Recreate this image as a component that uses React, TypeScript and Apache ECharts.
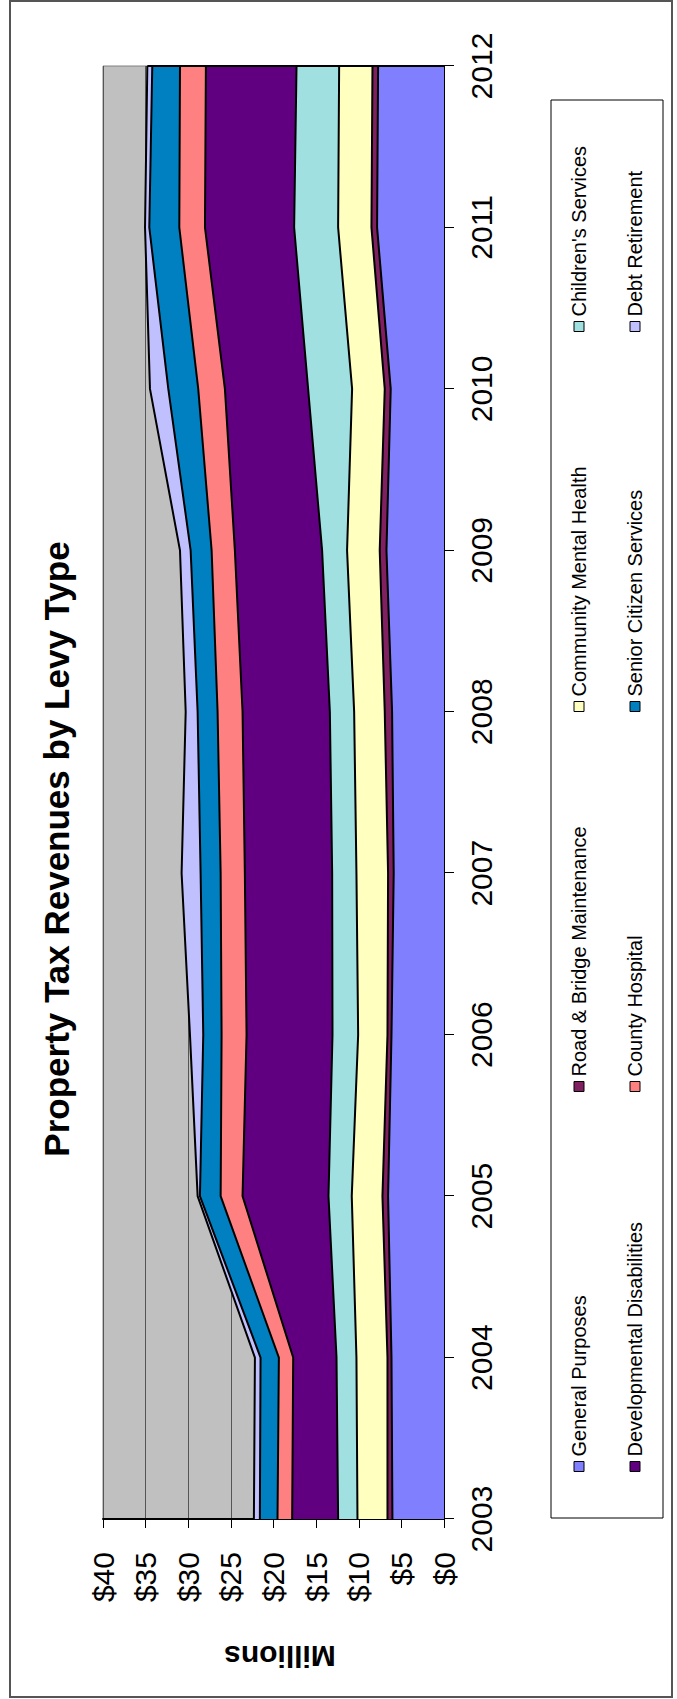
import React, { useEffect, useRef } from "react";
import * as echarts from "echarts";

const years = ["2003", "2004", "2005", "2006", "2007", "2008", "2009", "2010", "2011", "2012"];
const seriesNames = [
  "General Purposes",
  "Road & Bridge Maintenance",
  "Community Mental Health",
  "Children's Services",
  "Developmental Disabilities",
  "County Hospital",
  "Senior Citizen Services",
  "Debt Retirement",
];
const generalPurposes = [6.05, 6.16, 6.56, 6.16, 5.9, 6.09, 6.75, 6.25, 7.85, 7.73];
const roadBridge = [0.58, 0.47, 0.66, 0.47, 0.66, 0.86, 0.79, 0.7, 0.66, 0.66];
const mentalHealth = [3.52, 3.64, 3.6, 3.44, 3.71, 3.59, 3.83, 3.83, 3.91, 3.91];
const childrens = [2.27, 2.34, 2.73, 3.01, 2.85, 2.85, 2.93, 5.16, 5.16, 5.0];
const devDisabilities = [5.39, 5.08, 10.08, 10.08, 10.24, 10.24, 10.23, 9.76, 10.46, 10.63];
const countyHospital = [1.72, 1.68, 2.57, 2.93, 2.84, 2.93, 2.73, 3.13, 3.01, 3.04];
const seniorCitizen = [2.07, 2.15, 2.43, 2.15, 2.35, 2.34, 2.46, 3.51, 3.52, 3.25];
const debtRetirement = [0.7, 0.66, 0.27, 1.56, 2.23, 1.4, 1.25, 2.15, 0.5, 0.58];
const seriesValues = [
  generalPurposes,
  roadBridge,
  mentalHealth,
  childrens,
  devDisabilities,
  countyHospital,
  seniorCitizen,
  debtRetirement,
];
const seriesColors = ["#8080FF", "#802060", "#FFFFC0", "#A0E0E0", "#600080", "#FF8080", "#0080C0", "#C0C0FF"];
const valueTicks = { min: 0, max: 40, interval: 5 };

const FONT = '"Liberation Sans", Arial, Helvetica, sans-serif';

export default function App() {
  const ref = useRef<HTMLDivElement>(null);

  useEffect(() => {
    if (!ref.current) return;
    const chart = echarts.init(ref.current, undefined, { renderer: "svg" });

    const lastIdx = years.length - 1;
    const total2012 = seriesValues.reduce((s, arr) => s + arr[lastIdx], 0);

    // legend layout: 4 columns x 2 rows
    const colX = [232, 612, 992, 1372];
    const rowY = [579, 635];
    const legends = seriesNames.map((name, i) => {
      const col = i % 4;
      const row = Math.floor(i / 4);
      return {
        data: [name],
        left: colX[col] - 5,
        top: rowY[row] - 10,
        orient: "horizontal",
        padding: 0,
        itemGap: 0,
        itemWidth: 10,
        itemHeight: 10,
        icon: "rect",
        itemStyle: { borderColor: "#000", borderWidth: 1 },
        textStyle: { fontSize: 20, color: "#000", fontFamily: FONT },
        selectedMode: false,
      };
    });

    const series: any[] = seriesNames.map((name, i) => ({
      name,
      type: "line",
      stack: "total",
      data: seriesValues[i],
      symbol: "none",
      itemStyle: { color: seriesColors[i] },
      lineStyle: { color: "#000", width: 2 },
      areaStyle: { color: seriesColors[i], opacity: 1 },
      z: 2,
    }));
    series.push({
      name: "edge",
      type: "line",
      data: [
        [years[lastIdx], 0],
        [years[lastIdx], total2012],
      ],
      symbol: "none",
      lineStyle: { color: "#000", width: 2 },
      z: 3,
      silent: true,
    });

    chart.setOption({
      animation: false,
      backgroundColor: "#ffffff",
      textStyle: { fontFamily: FONT },
      grid: {
        left: 180,
        right: 66,
        top: 103,
        bottom: 233,
        show: true,
        backgroundColor: "#C0C0C0",
        borderColor: "#808080",
        borderWidth: 1,
        containLabel: false,
        outerBoundsMode: "none",
      },
      legend: legends,
      xAxis: {
        type: "category",
        data: years,
        boundaryGap: false,
        axisLine: { show: true, lineStyle: { color: "#000", width: 2 } },
        axisTick: { show: true, length: 10, lineStyle: { color: "#000", width: 1 } },
        axisLabel: { fontSize: 30, color: "#000", margin: 22, fontFamily: FONT, interval: 0 },
        splitLine: { show: false },
      },
      yAxis: {
        type: "value",
        min: valueTicks.min,
        max: valueTicks.max,
        interval: valueTicks.interval,
        axisLine: { show: true, lineStyle: { color: "#000", width: 2 } },
        axisTick: { show: true, length: 9, lineStyle: { color: "#000", width: 1 } },
        axisLabel: {
          formatter: (v: number) => "$" + v,
          fontSize: 30,
          color: "#000",
          margin: 33,
          fontFamily: FONT,
        },
        splitLine: { show: true, lineStyle: { color: "#555", width: 1 } },
      },
      graphic: [
        {
          type: "rect",
          z: -1,
          shape: { x: 2, y: 10, width: 1696, height: 662 },
          style: { fill: "none", stroke: "#555", lineWidth: 2 },
          silent: true,
        },
        {
          type: "rect",
          z: -1,
          shape: { x: 181, y: 551, width: 1418, height: 112 },
          style: { fill: "#fff", stroke: "#000", lineWidth: 1 },
          silent: true,
        },
        {
          type: "text",
          x: 850,
          y: 56,
          style: {
            text: "Property Tax Revenues by Levy Type",
            font: "bold 35px " + FONT,
            fill: "#000",
            align: "center",
            verticalAlign: "middle",
          },
          silent: true,
        },
        {
          type: "text",
          x: 43,
          y: 280,
          rotation: Math.PI / 2,
          style: {
            text: "Millions",
            font: "bold 30px " + FONT,
            fill: "#000",
            align: "center",
            verticalAlign: "middle",
          },
          silent: true,
        },
      ],
      series,
    });

    return () => chart.dispose();
  }, []);

  return (
    <div
      style={{
        position: "absolute",
        left: 0,
        top: 0,
        width: 677,
        height: 1699,
        overflow: "hidden",
        background: "#fff",
      }}
    >
      <div
        style={{
          position: "absolute",
          left: 0,
          top: 0,
          width: 1699,
          height: 677,
          transformOrigin: "0 0",
          transform: "translate(0px, 1699px) rotate(-90deg)",
        }}
      >
        <div ref={ref} style={{ width: 1699, height: 677 }} />
      </div>
    </div>
  );
}
